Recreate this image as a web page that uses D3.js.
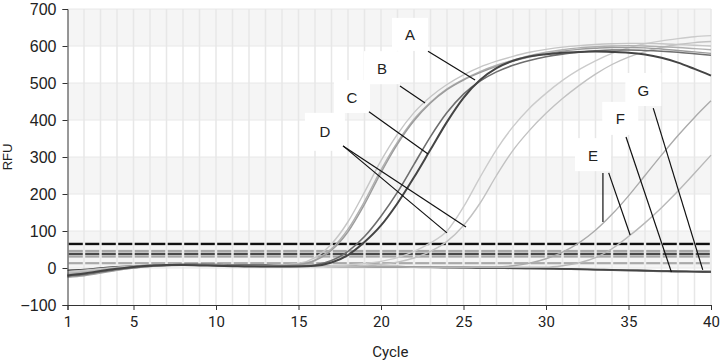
<!DOCTYPE html>
<html><head><meta charset="utf-8">
<script src="https://cdn.jsdelivr.net/npm/d3@7"></script>
<style>body{margin:0;background:#fff}svg{display:block}</style>
</head><body><svg id="c" width="724" height="363"></svg>
<script>
const cycles = d3.range(1, 41);
const xTicks = [1, 5, 10, 15, 20, 25, 30, 35, 40];
const yTicks = [-100, 0, 100, 200, 300, 400, 500, 600, 700];
const bands = [[0, 100], [200, 300], [400, 500], [600, 700]];
const thresholds = [65, 46, 38, 31, 13];
const thresholdColors = ["#111", "#a8a8a8", "#4a4a4a", "#a8a8a8", "#aaaaaa"];

const curveAB_a = [-10,-6,-2,2,5,7,8,9,9,8,7,7,7,8,12,28,65,125,205,290,362,420,463,496,522,543,559,572,583,591,597,601,604,606,607,607,606,604,602,600];
const curveAB_b = [-15,-11,-5,0,4,7,8,8,8,7,6,6,6,7,10,22,52,105,180,265,340,402,448,484,510,531,548,562,574,583,590,595,598,600,601,600,598,596,593,590];
const curveAB_c = [-20,-16,-9,-3,2,5,7,8,8,7,6,5,5,6,9,20,48,98,172,258,335,398,446,482,508,528,545,559,570,579,586,591,594,596,596,595,592,588,584,580];
const curveC2 = [-22,-18,-11,-4,1,5,7,8,8,7,6,5,4,4,5,8,20,45,85,140,205,280,355,420,470,505,530,548,561,571,578,583,587,589,589,588,586,583,579,575];
const curveC1 = [-20,-15,-8,-2,3,6,8,8,7,6,5,4,4,4,4,6,15,35,70,115,175,245,320,395,460,508,540,560,572,578,582,584,585,584,582,577,568,555,538,520];
const curveD1 = [-12,-8,-3,1,4,6,7,8,8,7,6,6,5,5,5,5,6,8,12,18,28,45,68,100,165,245,320,382,432,472,507,536,560,580,595,606,614,620,625,628];
const curveD2 = [-16,-12,-6,-1,3,5,6,7,7,6,6,5,5,4,4,4,4,5,7,10,16,27,45,72,115,175,250,318,372,418,458,493,524,550,570,585,596,604,609,612];
const curveE1 = [-18,-14,-8,-2,2,5,7,8,8,7,7,6,6,5,5,5,4,4,4,3,3,3,3,3,3,3,3,6,13,25,43,68,102,145,195,250,305,358,407,452];
const curveE2 = [-24,-19,-12,-5,0,4,6,7,7,7,6,6,5,5,5,4,4,4,3,3,3,2,2,2,2,2,2,2,2,2,6,14,28,52,85,122,163,208,256,305];
const curveN1 = [-18,-16,-10,-3,2,6,8,9,9,8,8,7,7,6,6,5,5,4,4,3,3,2,2,1,1,0,0,-1,-1,-2,-3,-4,-5,-6,-7,-8,-9,-10,-10,-11];
const curveN2 = [-25,-21,-14,-6,0,4,7,8,8,8,7,7,6,6,5,5,4,4,3,3,2,2,1,1,0,0,-1,-1,-2,-2,-3,-3,-4,-5,-5,-6,-7,-7,-8,-8];
const curveN3 = [-6,-4,0,3,5,7,8,9,9,9,8,8,8,7,7,6,6,5,5,4,4,3,3,2,2,1,1,0,0,-1,-2,-3,-4,-5,-6,-7,-8,-9,-10,-11];

const series = [
  {v: curveN2, c: "#9a9a9a", w: 1.4},
  {v: curveN1, c: "#6a6a6a", w: 1.6},
  {v: curveN3, c: "#444", w: 1.6},
  {v: curveE2, c: "#b8b8b8", w: 1.4},
  {v: curveE1, c: "#ababab", w: 1.4},
  {v: curveD2, c: "#c2c2c2", w: 1.4},
  {v: curveD1, c: "#cbcbcb", w: 1.4},
  {v: curveAB_a, c: "#c6c6c6", w: 1.4},
  {v: curveAB_b, c: "#b0b0b0", w: 1.4},
  {v: curveAB_c, c: "#9c9c9c", w: 1.4},
  {v: curveC2, c: "#6e6e6e", w: 1.6},
  {v: curveC1, c: "#444", w: 2}
];

const labels = ["A", "B", "C", "D", "E", "F", "G"];
const labelCycle = [21.76, 20.06, 18.24, 16.6, 32.85, 34.5, 35.9];
const labelRFU = [630, 540, 462, 368, 305, 403, 481];
const pointerFrom = [[22.85, 586], [21.15, 492], [19.27, 422], [17.7, 330], [17.7, 330], [33.45, 257], [33.8, 257], [34.85, 354], [36.5, 432]];
const pointerTo = [[25.7, 508], [22.67, 446], [22.85, 308], [25.15, 111], [24.0, 95], [33.45, 124], [35.1, 89], [37.6, -11], [39.5, -5]];

const svg = d3.select("#c");
const x = d3.scaleLinear().domain([1, 40]).range([67.5, 711]);
const y = d3.scaleLinear().domain([-100, 700]).range([305, 9]);

// bands
svg.append("g").selectAll("rect").data(bands).join("rect")
  .attr("x", x(1)).attr("width", x(40) - x(1))
  .attr("y", d => y(d[1])).attr("height", d => y(d[0]) - y(d[1]))
  .attr("fill", "#f5f5f5");
// horizontal grid
svg.append("g").selectAll("line").data(yTicks.slice(1)).join("line")
  .attr("x1", x(1)).attr("x2", x(40)).attr("y1", d => y(d)).attr("y2", d => y(d))
  .attr("stroke", "#e8e8e8").attr("stroke-width", 1);
// vertical grid
svg.append("g").selectAll("line").data(cycles.slice(1)).join("line")
  .attr("x1", d => x(d)).attr("x2", d => x(d)).attr("y1", y(700)).attr("y2", y(-100))
  .attr("stroke", "#e7e7e7").attr("stroke-width", 1.5);

// thresholds as segments between cycles
const segs = [];
thresholds.forEach((t, i) => cycles.slice(0, -1).forEach(c => segs.push({t, c, col: thresholdColors[i]})));
svg.append("g").selectAll("line").data(segs).join("line")
  .attr("x1", d => x(d.c) + 1.2).attr("x2", d => x(d.c + 1) - 1.2)
  .attr("y1", d => y(d.t)).attr("y2", d => y(d.t))
  .attr("stroke", d => d.col)
  .attr("stroke-width", d => (d.t === 65 || d.t === 38) ? 2.4 : 2.2);

// curves
const line = d3.line().x((d, i) => x(cycles[i])).y(d => y(d)).curve(d3.curveMonotoneX);
svg.append("g").selectAll("path").data(series).join("path")
  .attr("d", d => line(d.v)).attr("fill", "none")
  .attr("stroke", d => d.c).attr("stroke-width", d => d.w);

// axes
const yAxis = d3.axisLeft(y).tickValues(yTicks).tickSize(5).tickPadding(6)
  .tickFormat(d => d < 0 ? "\u2212" + Math.abs(d) : d);
const gy = svg.append("g").attr("transform", `translate(${x(1)},0)`).call(yAxis);
gy.selectAll("text").attr("font-family", "Liberation Sans, Arial, sans-serif").attr("font-size", 16).attr("fill", "#222");
gy.selectAll("line,path").attr("stroke", "#333");

const xAxis = d3.axisBottom(x).tickValues(xTicks).tickSize(5).tickPadding(6);
const gx = svg.append("g").attr("transform", `translate(0,${y(-100)})`).call(xAxis);
gx.selectAll("text").attr("font-family", "Roboto, sans-serif").attr("font-size", 15).attr("fill", "#222");
gx.selectAll("line,path").attr("stroke", "#333");

svg.append("text").attr("x", (x(1) + x(40)) / 2 + 1).attr("y", 357).attr("text-anchor", "middle")
  .attr("font-family", "Roboto, sans-serif").attr("font-size", 15).attr("fill", "#222").text("Cycle");
svg.append("text").attr("transform", `translate(12,${y(300)}) rotate(-90)`).attr("text-anchor", "middle")
  .attr("font-family", "Liberation Sans, Arial, sans-serif").attr("font-size", 13).attr("fill", "#222").text("RFU");

// label boxes
svg.append("g").selectAll("rect").data(labels).join("rect")
  .attr("x", (d, i) => x(labelCycle[i]) - (d === "D" ? 20 : 18))
  .attr("y", (d, i) => y(labelRFU[i]) - (d === "D" ? 19 : 17))
  .attr("width", d => d === "D" ? 40 : 36).attr("height", d => d === "D" ? 38 : 33)
  .attr("fill", "#fff");
// pointers
svg.append("g").selectAll("line").data(pointerFrom).join("line")
  .attr("x1", d => x(d[0])).attr("y1", d => y(d[1]))
  .attr("x2", (d, i) => x(pointerTo[i][0])).attr("y2", (d, i) => y(pointerTo[i][1]))
  .attr("stroke", "#111").attr("stroke-width", 1.2);
svg.append("g").selectAll("text").data(labels).join("text")
  .attr("x", (d, i) => x(labelCycle[i])).attr("y", (d, i) => y(labelRFU[i]) + 5.5)
  .attr("text-anchor", "middle").attr("font-family", "Liberation Sans, Arial, sans-serif")
  .attr("font-size", 15).attr("fill", "#222").text(d => d);
</script></body></html>
